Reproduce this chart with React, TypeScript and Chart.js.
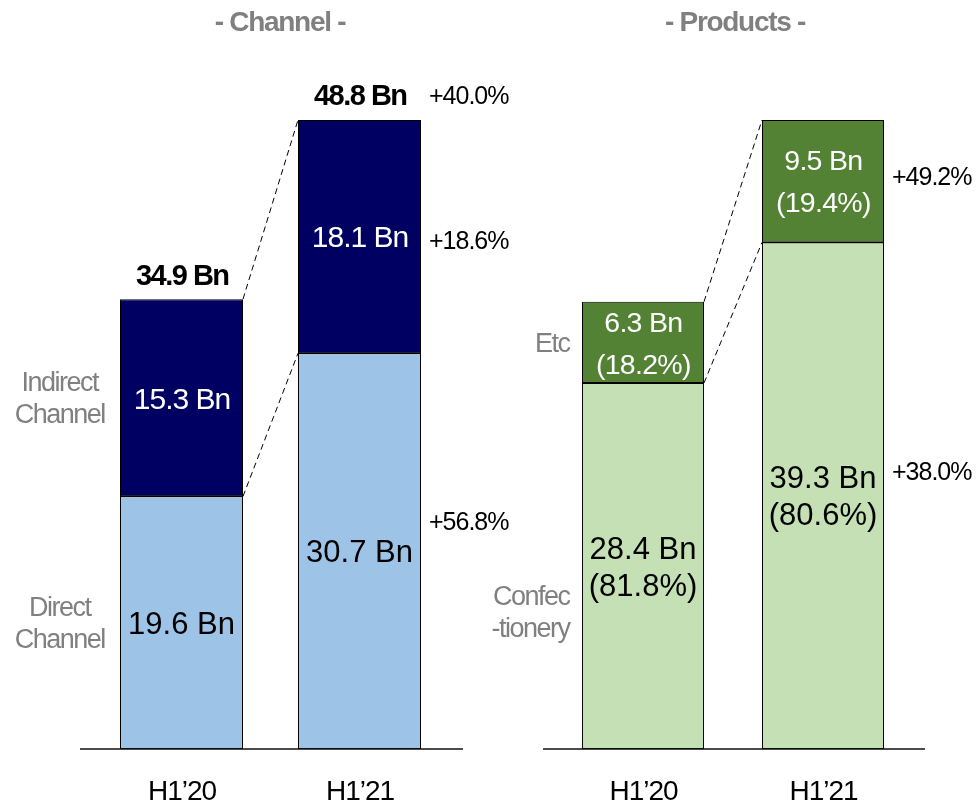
import React, { useEffect, useRef } from "react";
import { Chart, registerables } from "chart.js";

Chart.register(...registerables);

// ---------- data ----------
const categories = ["H1’20", "H1’21"];

// Channel panel
const directChannel = [19.6, 30.7];
const indirectChannel = [15.3, 18.1];
const channelTotals = ["34.9 Bn", "48.8 Bn"];
const directGrowth = "+56.8%";
const indirectGrowth = "+18.6%";
const channelTotalGrowth = "+40.0%";

// Products panel
const confectionery = [28.4, 39.3];
const etcProducts = [6.3, 9.5];
const confectioneryShare = ["(81.8%)", "(80.6%)"];
const etcShare = ["(18.2%)", "(19.4%)"];
const confectioneryGrowth = "+38.0%";
const etcGrowth = "+49.2%";

const yMax = 48.8;

// ---------- styling ----------
const FONT = '"Liberation Sans", Arial, Helvetica, sans-serif';
const NAVY = "#000062";
const LIGHT_BLUE = "#9DC3E6";
const DARK_GREEN = "#548235";
const LIGHT_GREEN = "#C5E0B4";
const GRAY = "#808080";

type Panel = {
  title: string;
  titleX: number;
  bottom: number[];
  top: number[];
  bottomColor: string;
  topColor: string;
  bottomLabels: string[][];
  topLabels: string[][];
  bottomText: { size: number; spacing: number; gap: number; color: string };
  topText: { size: number; spacing: number; gap: number; color: string };
  totals: string[] | null;
  totalGrowth: string | null;
  topGrowth: string;
  bottomGrowth: string;
  topGrowthDy: number;
  bottomGrowthDy: number;
  topSide: string[];
  bottomSide: string[];
  topSideDy: number;
  bottomSideDy: number;
  sideAlign: "center" | "right";
  sideDx: number;
  padding: { left: number; right: number; top: number; bottom: number };
  axisExt: [number, number];
  barPct: number;
};

const fmtBn = (v: number) => `${v.toFixed(1)} Bn`;

const channelPanel: Panel = {
  title: "- Channel -",
  titleX: 280,
  bottom: directChannel,
  top: indirectChannel,
  bottomColor: LIGHT_BLUE,
  topColor: NAVY,
  bottomLabels: directChannel.map((v) => [fmtBn(v)]),
  topLabels: indirectChannel.map((v) => [fmtBn(v)]),
  bottomText: { size: 31, spacing: 0, gap: 0, color: "#000" },
  topText: { size: 30, spacing: -1, gap: 0, color: "#fff" },
  totals: channelTotals,
  totalGrowth: channelTotalGrowth,
  topGrowth: indirectGrowth,
  bottomGrowth: directGrowth,
  topGrowthDy: 3,
  bottomGrowthDy: -30,
  topSide: ["Indirect", "Channel"],
  bottomSide: ["Direct", "Channel"],
  topSideDy: 0,
  bottomSideDy: 0,
  sideAlign: "center",
  sideDx: -61,
  padding: { left: 92.5, right: 91.5, top: 120, bottom: 54 },
  axisExt: [12.5, 14.5],
  barPct: 0.691,
};

const productsPanel: Panel = {
  title: "- Products -",
  titleX: 247,
  bottom: confectionery,
  top: etcProducts,
  bottomColor: LIGHT_GREEN,
  topColor: DARK_GREEN,
  bottomLabels: confectionery.map((v, i) => [fmtBn(v), confectioneryShare[i]]),
  topLabels: etcProducts.map((v, i) => [fmtBn(v), etcShare[i]]),
  bottomText: { size: 31, spacing: 0, gap: 37, color: "#000" },
  topText: { size: 28.5, spacing: -0.7, gap: 42, color: "#fff" },
  totals: null,
  totalGrowth: null,
  topGrowth: etcGrowth,
  bottomGrowth: confectioneryGrowth,
  topGrowthDy: -5,
  bottomGrowthDy: -25,
  topSide: ["Etc"],
  bottomSide: ["Confec", "-tionery"],
  topSideDy: 0,
  bottomSideDy: 45,
  sideAlign: "right",
  sideDx: -14,
  padding: { left: 65, right: 63, top: 120, bottom: 54 },
  axisExt: [10, 12],
  barPct: 0.678,
};

function drawText(
  ctx: CanvasRenderingContext2D,
  s: string,
  x: number,
  yCenter: number,
  size: number,
  color: string,
  align: CanvasTextAlign,
  spacing = 0,
  bold = false
) {
  ctx.save();
  ctx.font = `${bold ? "bold " : ""}${size}px ${FONT}`;
  ctx.fillStyle = color;
  ctx.textAlign = align;
  ctx.textBaseline = "alphabetic";
  (ctx as any).letterSpacing = `${spacing}px`;
  const shift = align === "center" ? spacing / 2 : align === "right" ? spacing : 0;
  ctx.fillText(s, x - shift, yCenter + size * 0.358);
  ctx.restore();
}

function makePlugin(p: Panel) {
  return {
    id: "panelDecor",
    afterDatasetsDraw(chart: any) {
      const ctx: CanvasRenderingContext2D = chart.ctx;
      const area = chart.chartArea;
      const base = chart.scales.y.getPixelForValue(0);
      const rectOf = (el: any) => {
        const q = el.getProps(["x", "y", "base", "width"], true);
        return {
          l: q.x - q.width / 2,
          r: q.x + q.width / 2,
          t: Math.min(q.y, q.base),
          b: Math.max(q.y, q.base),
          cx: q.x,
        };
      };
      const bMeta = chart.getDatasetMeta(0);
      const tMeta = chart.getDatasetMeta(1);
      const b0 = rectOf(bMeta.data[0]);
      const b1 = rectOf(bMeta.data[1]);
      const t0 = rectOf(tMeta.data[0]);
      const t1 = rectOf(tMeta.data[1]);

      // segment split lines (black)
      ctx.save();
      ctx.strokeStyle = "#000";
      ctx.lineWidth = 1.2;
      ctx.beginPath();
      [b0, b1].forEach((r) => {
        ctx.moveTo(r.l, r.t);
        ctx.lineTo(r.r, r.t);
      });
      ctx.stroke();
      ctx.restore();

      // axis line
      ctx.save();
      ctx.strokeStyle = "#111";
      ctx.lineWidth = 1.5;
      ctx.beginPath();
      ctx.moveTo(area.left - p.axisExt[0], base);
      ctx.lineTo(area.right + p.axisExt[1], base);
      ctx.stroke();
      ctx.restore();

      // dashed connectors
      ctx.save();
      ctx.strokeStyle = "#000";
      ctx.lineWidth = 1;
      ctx.setLineDash([6, 4]);
      ctx.beginPath();
      ctx.moveTo(t0.r, t0.t);
      ctx.lineTo(t1.l, t1.t);
      ctx.moveTo(b0.r, b0.t);
      ctx.lineTo(b1.l, b1.t);
      ctx.stroke();
      ctx.restore();

      // in-bar labels
      const segLabels = (
        rects: any[],
        labels: string[][],
        st: { size: number; spacing: number; gap: number; color: string },
        clip: boolean
      ) => {
        rects.forEach((r, i) => {
          const lines = labels[i];
          const c = (r.t + r.b) / 2;
          ctx.save();
          if (clip) {
            ctx.beginPath();
            ctx.rect(r.l, r.t, r.r - r.l, r.b - r.t);
            ctx.clip();
          }
          lines.forEach((s, k) => {
            const y = c + (k - (lines.length - 1) / 2) * st.gap;
            drawText(ctx, s, r.cx, y, st.size, st.color, "center", st.spacing);
          });
          ctx.restore();
        });
      };
      segLabels([b0, b1], p.bottomLabels, p.bottomText, false);
      segLabels([t0, t1], p.topLabels, p.topText, true);

      // totals
      if (p.totals) {
        drawText(ctx, p.totals[0], t0.cx, t0.t - 25, 29, "#000", "center", -1.5, true);
        drawText(ctx, p.totals[1], t1.cx, t1.t - 25, 29, "#000", "center", -1.5, true);
      }

      // growth labels
      const gx = t1.r + 8;
      if (p.totalGrowth) drawText(ctx, p.totalGrowth, gx, t1.t - 25, 25, "#000", "left", -1);
      drawText(ctx, p.topGrowth, gx, (t1.t + t1.b) / 2 + p.topGrowthDy, 25, "#000", "left", -1);
      drawText(ctx, p.bottomGrowth, gx, (b1.t + b1.b) / 2 + p.bottomGrowthDy, 25, "#000", "left", -1);

      // side labels
      const sx = b0.l + p.sideDx;
      const side = (lines: string[], c: number) => {
        lines.forEach((s, k) => {
          const y = c + (k - (lines.length - 1) / 2) * 32;
          drawText(ctx, s, sx, y, 27, GRAY, p.sideAlign, -1.5);
        });
      };
      side(p.topSide, (t0.t + t0.b) / 2 + p.topSideDy);
      side(p.bottomSide, (b0.t + b0.b) / 2 + p.bottomSideDy);

      // category labels
      categories.forEach((c, i) => {
        const x = chart.scales.x.getPixelForValue(i);
        ctx.save();
        ctx.font = `28px ${FONT}`;
        ctx.fillStyle = "#000";
        ctx.textAlign = "center";
        ctx.textBaseline = "alphabetic";
        (ctx as any).letterSpacing = "-1px";
        ctx.fillText(c, x + 0.5, base + 51);
        ctx.restore();
      });

      // title
      ctx.save();
      ctx.font = `bold 28px ${FONT}`;
      ctx.fillStyle = GRAY;
      ctx.textAlign = "center";
      ctx.textBaseline = "alphabetic";
      (ctx as any).letterSpacing = "-1.3px";
      ctx.fillText(p.title, p.titleX, 31);
      ctx.restore();
    },
  };
}

function build(canvas: HTMLCanvasElement, p: Panel) {
  return new Chart(canvas, {
    type: "bar",
    data: {
      labels: categories,
      datasets: [
        {
          data: p.bottom,
          backgroundColor: p.bottomColor,
          borderColor: "#000",
          borderWidth: 1,
          borderSkipped: false,
          barPercentage: p.barPct,
          categoryPercentage: 1,
        },
        {
          data: p.top,
          backgroundColor: p.topColor,
          borderColor: "#000",
          borderWidth: 1,
          borderSkipped: false,
          barPercentage: p.barPct,
          categoryPercentage: 1,
        },
      ],
    },
    options: {
      responsive: false,
      animation: false,
      devicePixelRatio: 1,
      layout: { padding: p.padding },
      plugins: {
        legend: { display: false },
        tooltip: { enabled: false },
        title: { display: false },
      },
      scales: {
        x: { type: "category", stacked: true, display: false, offset: true },
        y: { stacked: true, display: false, min: 0, max: yMax },
      },
    },
    plugins: [makePlugin(p)],
  } as any);
}

export default function App() {
  const leftRef = useRef<HTMLCanvasElement>(null);
  const rightRef = useRef<HTMLCanvasElement>(null);
  useEffect(() => {
    const charts: Chart[] = [];
    if (leftRef.current) charts.push(build(leftRef.current, channelPanel));
    if (rightRef.current) charts.push(build(rightRef.current, productsPanel));
    return () => charts.forEach((c) => c.destroy());
  }, []);
  return (
    <div style={{ position: "fixed", left: 0, top: 0, width: 976, height: 803, background: "#fff" }}>
      <canvas
        ref={leftRef}
        width={540}
        height={803}
        style={{ position: "absolute", left: 0, top: 0, width: 540, height: 803, display: "block" }}
      />
      <canvas
        ref={rightRef}
        width={488}
        height={803}
        style={{ position: "absolute", left: 488, top: 0, width: 488, height: 803, display: "block" }}
      />
    </div>
  );
}
